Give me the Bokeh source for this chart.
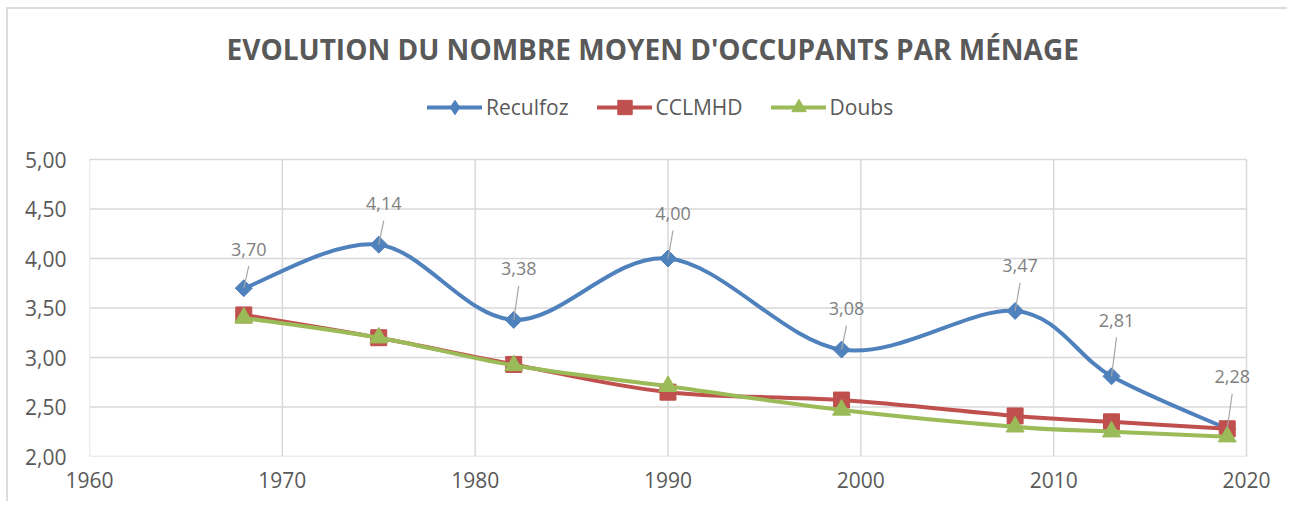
import numpy as np
from bokeh.plotting import figure
from bokeh.models import Legend, LegendItem, FixedTicker, Range1d, ColumnDataSource
from bokeh.core.properties import value
from bokeh.embed import file_html
from bokeh.resources import INLINE

# ---------------- data ----------------
years = [1968, 1975, 1982, 1990, 1999, 2008, 2013, 2019]
reculfoz = [3.70, 4.14, 3.38, 4.00, 3.08, 3.47, 2.81, 2.28]
cclmhd = [3.43, 3.20, 2.93, 2.65, 2.57, 2.41, 2.35, 2.28]
doubs = [3.40, 3.20, 2.92, 2.71, 2.47, 2.30, 2.25, 2.20]
reculfoz_labels = ["3,70", "4,14", "3,38", "4,00", "3,08", "3,47", "2,81", "2,28"]
series_names = ["Reculfoz", "CCLMHD", "Doubs"]
x_ticks = [1960, 1970, 1980, 1990, 2000, 2010, 2020]
y_ticks = [2.0, 2.5, 3.0, 3.5, 4.0, 4.5, 5.0]
y_tick_labels = ["2,00", "2,50", "3,00", "3,50", "4,00", "4,50", "5,00"]
title_text = "EVOLUTION DU NOMBRE MOYEN D'OCCUPANTS PAR MÉNAGE"

# ---------------- style / layout ----------------
BLUE, RED, GREEN = "#4F81BD", "#C0504D", "#9BBB59"
GRID = "#d9d9d9"
TXT = "#595959"
FONT = "Open Sans"
PX_PER_YEAR = 19.28
PX_PER_UNIT = 98.95
RIGHT_PAD_PX = 19       # room right of the 2020 grid line (for the last data label)
TOP_PAD_PX = 84         # room above the 5,00 grid line (holds the legend)
label_dy_px = [39, 41, 51, 45, 41, 45, 56, 52]
label_dx_px = 5

x_end = x_ticks[-1] + RIGHT_PAD_PX / PX_PER_YEAR
y_end = y_ticks[-1] + TOP_PAD_PX / PX_PER_UNIT
frame_w = int(round((x_end - x_ticks[0]) * PX_PER_YEAR))
frame_h = int(round((y_end - y_ticks[0]) * PX_PER_UNIT))

p = figure(frame_width=frame_w, frame_height=frame_h,
           output_backend="svg", toolbar_location=None,
           x_range=Range1d(x_ticks[0], x_end), y_range=Range1d(y_ticks[0], y_end),
           min_border_left=81, min_border_top=66, min_border_right=22, min_border_bottom=45,
           background_fill_color="white", border_fill_color="white",
           styles={"margin-left": "6px", "margin-top": "7px",
                   "border-left": "2px solid #dcdcdc", "border-top": "2px solid #dcdcdc",
                   "border-right": "none", "border-bottom": "none"})

p.title.text = title_text
p.title.text_font = FONT
p.title.text_font_size = "28px"
p.title.text_font_style = "bold"
p.title.text_color = TXT
p.title.align = "left"
p.title.offset = 137
p.title.standoff = 15

p.outline_line_color = None
p.xgrid.visible = False
p.ygrid.visible = False

# plot-area grid drawn from the tick lists (limited to 1960-2020 / 2,00-5,00)
p.segment(x0=[x_ticks[0]] * len(y_ticks), y0=y_ticks, x1=[x_ticks[-1]] * len(y_ticks), y1=y_ticks,
          line_color=GRID, line_width=1.5)
p.segment(x0=x_ticks, y0=[y_ticks[0]] * len(x_ticks), x1=x_ticks, y1=[y_ticks[-1]] * len(x_ticks),
          line_color=GRID, line_width=1.5)

p.xaxis.ticker = FixedTicker(ticks=x_ticks)
p.yaxis.ticker = FixedTicker(ticks=y_ticks)
p.yaxis.major_label_overrides = {t: l for t, l in zip(y_ticks, y_tick_labels)}
for ax in (p.xaxis, p.yaxis):
    ax.axis_line_color = None
    ax.major_tick_line_color = None
    ax.minor_tick_line_color = None
    ax.major_tick_out = 0
    ax.major_tick_in = 0
    ax.major_label_text_font = FONT
    ax.major_label_text_font_size = "21px"
    ax.major_label_text_color = TXT
p.yaxis.major_label_standoff = 23
p.xaxis.major_label_standoff = 15


def bezier_source(xs, ys):
    xs = np.asarray(xs, float)
    ys = np.asarray(ys, float)
    n = len(xs)
    d = dict(x0=[], y0=[], x1=[], y1=[], cx0=[], cy0=[], cx1=[], cy1=[])
    for i in range(n - 1):
        a = max(i - 1, 0)
        b = min(i + 2, n - 1)
        d["x0"].append(xs[i]); d["y0"].append(ys[i])
        d["x1"].append(xs[i + 1]); d["y1"].append(ys[i + 1])
        d["cx0"].append(xs[i] + (xs[i + 1] - xs[a]) / 6)
        d["cy0"].append(ys[i] + (ys[i + 1] - ys[a]) / 6)
        d["cx1"].append(xs[i + 1] - (xs[b] - xs[i]) / 6)
        d["cy1"].append(ys[i + 1] - (ys[b] - ys[i]) / 6)
    return ColumnDataSource(d)


items = []
specs = [
    (reculfoz, BLUE, dict(marker="square", size=12, angle=np.pi / 4), "diamond"),
    (cclmhd, RED, dict(marker="square", size=16), "square"),
    (doubs, GREEN, dict(marker="triangle", size=18), "triangle"),
]
for name, (vals, col, mk, leg_marker) in zip(series_names, specs):
    br = p.bezier(x0="x0", y0="y0", x1="x1", y1="y1", cx0="cx0", cy0="cy0",
                  cx1="cx1", cy1="cy1", source=bezier_source(years, vals),
                  line_color=col, line_width=4, line_cap="round")
    p.scatter(years, vals, fill_color=col, line_color=col, **mk)
    # legend-only marker (not drawn in the plot: NaN position) giving the legend symbol shape
    lr = p.scatter(x=[np.nan], y=[np.nan], marker=leg_marker, fill_color=col, line_color=col)
    items.append(LegendItem(label=name, renderers=[br, lr]))

# data labels with leader lines (Reculfoz)
lab_x = [x + label_dx_px / PX_PER_YEAR for x in years]
lab_y = [y + dy / PX_PER_UNIT for y, dy in zip(reculfoz, label_dy_px)]
lead_top_y = [y + (dy - 17) / PX_PER_UNIT for y, dy in zip(reculfoz, label_dy_px)]
p.segment(x0=years, y0=reculfoz, x1=lab_x, y1=lead_top_y, line_color="#a6a6a6", line_width=1.2)
p.text(x=lab_x, y=lab_y, text=reculfoz_labels, text_align="center", text_baseline="middle",
       text_font=value(FONT), text_font_size="18px", text_color="#7f7f7f")

legend = Legend(items=items, orientation="horizontal", location=(338, 331),
                glyph_width=55, glyph_height=36, label_standoff=4, spacing=28,
                padding=0, margin=0, border_line_color=None, background_fill_alpha=0,
                label_text_font=FONT, label_text_font_size="21px", label_text_color=TXT)
p.add_layout(legend, "center")

open("out.html", "w").write(file_html(p, INLINE))
